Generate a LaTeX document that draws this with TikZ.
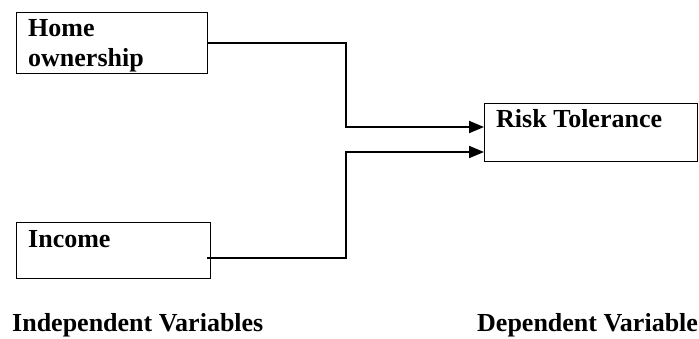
\documentclass[tikz,border=0pt]{standalone}
\usepackage{fontspec}
\setmainfont{Liberation Serif}
\usetikzlibrary{arrows.meta}
\begin{document}
\begin{tikzpicture}[x=1pt,y=1pt,
  box/.style={draw,line width=1pt,inner sep=0pt,anchor=north west},
  lbl/.style={anchor=base west,inner sep=0pt,font=\fontsize{26}{30}\selectfont\bfseries},
  conn/.style={line width=2pt,-{Triangle[length=15pt,width=12pt]}}]
\useasboundingbox (0,0) rectangle (699,-338);
\node[box,minimum width=191pt,minimum height=61pt] (home) at (16,-12) {};
\node[box,minimum width=194pt,minimum height=56pt] (inc) at (16,-222) {};
\node[box,minimum width=213pt,minimum height=58pt] (risk) at (484,-103) {};
\node[lbl] (t1) at (28,-36) {Home};
\node[lbl] (t2) at (28,-66) {ownership};
\node[lbl] (t3) at (28,-247) {Income};
\node[lbl] (t4) at (496,-127) {Risk Tolerance};
\node[lbl] (t5) at (12,-331) {Independent Variables};
\node[lbl] (t6) at (477,-331) {Dependent Variable};
\coordinate (i0) at (207,-258);
\coordinate (h0) at (home.east);
\draw[conn] (h0) -| (346,-85) |- (risk.west |- 0,-127);
\draw[conn] (i0) -| (346,-200) |- (risk.west |- 0,-152);
\end{tikzpicture}
\end{document}
